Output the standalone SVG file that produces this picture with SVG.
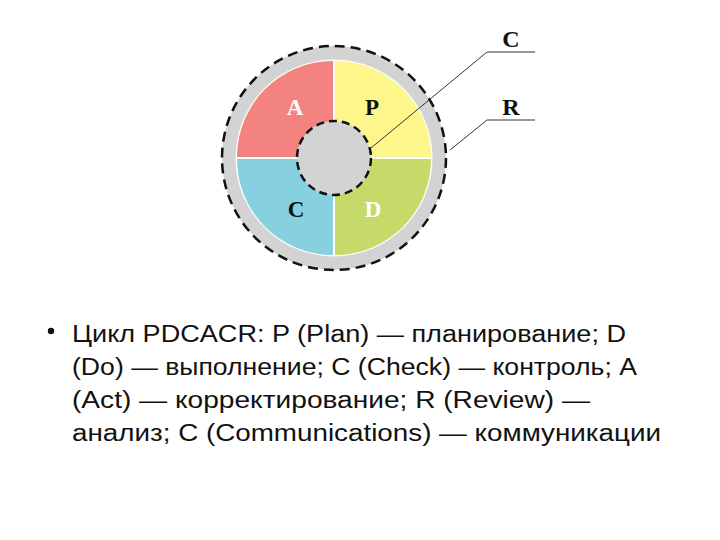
<svg xmlns="http://www.w3.org/2000/svg" width="720" height="540" viewBox="0 0 720 540">
<style>
.q{font-family:"Liberation Serif","Times New Roman",serif;font-weight:bold;font-size:23px;text-anchor:middle}
.lbl{font-family:"Liberation Serif","Times New Roman",serif;font-weight:bold;font-size:24px;text-anchor:middle;fill:#111}
.body{font-family:"Liberation Sans",Arial,sans-serif;font-size:23px;fill:#111}
.lead{fill:none;stroke:#333;stroke-width:1}
</style>
<rect width="720" height="540" fill="#fff"/>
<g id="ring-R">
<circle cx="334" cy="158" r="112" fill="#d3d3d3"/>
<circle cx="334" cy="158" r="112" fill="none" stroke="#111" stroke-width="2.5" stroke-dasharray="10,6"/>
</g>
<g id="quadrants">
<circle cx="334" cy="158" r="98.5" fill="#fff"/>
<path id="A" d="M333,157 L333,61 A96,96 0 0 0 237,157 Z" fill="#f2837e"/>
<path id="P" d="M335,157 L335,61 A96,96 0 0 1 431,157 Z" fill="#fdf68a"/>
<path id="Cq" d="M333,159 L333,255 A96,96 0 0 1 237,159 Z" fill="#86d0e0"/>
<path id="D" d="M335,159 L335,255 A96,96 0 0 0 431,159 Z" fill="#c6da6a"/>
</g>
<g id="center-C">
<circle cx="334" cy="158" r="37" fill="#d3d3d3"/>
<circle cx="334" cy="158" r="37" fill="none" stroke="#111" stroke-width="2.5" stroke-dasharray="8,5"/>
</g>
<g id="labels">
<text class="q" x="295" y="115" fill="#fff">A</text>
<text class="q" x="372" y="115" fill="#111">P</text>
<text class="q" x="296" y="217" fill="#111">C</text>
<text class="q" x="373" y="217" fill="#fff">D</text>
</g>
<g id="connectors">
<polyline class="lead" points="371,148 487,52 535,52"/>
<polyline class="lead" points="450,150 487,120 535,120"/>
</g>
<g id="callouts">
<text class="lbl" x="511" y="47">C</text>
<text class="lbl" x="511" y="115">R</text>
</g>
<g id="caption">
<circle cx="51" cy="331" r="3.2" fill="#111"/>
<text class="body" x="72" y="342" textLength="554" lengthAdjust="spacingAndGlyphs">Цикл PDCACR: P (Plan) — планирование; D</text>
<text class="body" x="72" y="375" textLength="565" lengthAdjust="spacingAndGlyphs">(Do) — выполнение; C (Check) — контроль; A</text>
<text class="body" x="72" y="408" textLength="518" lengthAdjust="spacingAndGlyphs">(Act) — корректирование; R (Review) —</text>
<text class="body" x="72" y="441" textLength="589" lengthAdjust="spacingAndGlyphs">анализ; C (Communications) — коммуникации</text>
</g>
</svg>
